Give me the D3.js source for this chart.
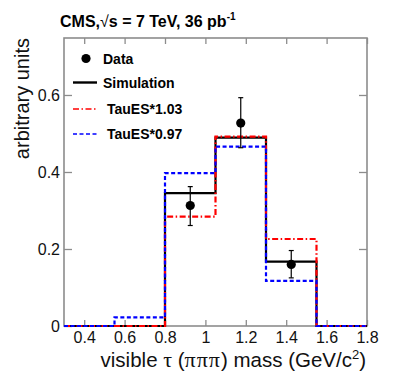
<!DOCTYPE html>
<html lang="en">
<head>
    <meta charset="UTF-8">
    <title>Visible tau mass, 3-prong</title>
    <style>
        body { margin: 0; background: #fff; }
        svg { display: block; font-family: "Liberation Sans", Arial, sans-serif; }
        .tick text { font-family: "Liberation Sans", Arial, sans-serif; }
    </style>
</head>
<body>
    <div class="graph-container"></div>

    <script src="https://d3js.org/d3.v7.min.js"></script>
    <script>
        // bin edges (GeV/c^2) and per-bin contents
        var binEdges = [0.3, 0.55, 0.8, 1.05, 1.3, 1.55, 1.8];
        var simulation = [0, 0, 0.345, 0.489, 0.167, 0];
        var tauUp = [0, 0, 0.284, 0.492, 0.226, 0];      // TauES*1.03
        var tauDown = [0, 0.0225, 0.397, 0.466, 0.117, 0]; // TauES*0.97

        // data points with error bars
        var dataX = [0.925, 1.175, 1.425];
        var dataY = [0.313, 0.527, 0.160];
        var dataLo = [0.261, 0.463, 0.125];
        var dataHi = [0.362, 0.593, 0.196];

        var xTicks = [0.4, 0.6, 0.8, 1.0, 1.2, 1.4, 1.6, 1.8];
        var xTickLabels = ["0.4", "0.6", "0.8", "1", "1.2", "1.4", "1.6", "1.8"];
        var yTicks = [0, 0.2, 0.4, 0.6];
        var yTickLabels = ["0", "0.2", "0.4", "0.6"];

        var canvasWidth = 399;
        var canvasHeight = 375;
        var frame = { left: 64, right: 367, top: 38, bottom: 326 };
        var frameColor = "#8c8c8c";

        var x = d3.scaleLinear().domain([0.3, 1.8]).range([frame.left, frame.right]);
        var y = d3.scaleLinear().domain([0, 0.748]).range([frame.bottom, frame.top]);

        var svg = d3.select(".graph-container")
            .append("svg")
            .attr("width", canvasWidth)
            .attr("height", canvasHeight);

        // axes: ticks point inward, labels only on bottom/left
        function styleAxis(g) {
            g.select(".domain").remove();
            g.selectAll(".tick line").attr("stroke", frameColor).attr("stroke-width", 1.3);
            g.selectAll(".tick text").attr("fill", "#111").attr("font-size", 16);
        }

        svg.append("g")
            .attr("transform", "translate(0," + frame.bottom + ")")
            .call(d3.axisBottom(x).tickValues(xTicks).tickSize(-6).tickPadding(6)
                .tickFormat(function(d, i) { return xTickLabels[i]; }))
            .call(styleAxis);

        svg.append("g")
            .attr("transform", "translate(0," + frame.top + ")")
            .call(d3.axisTop(x).tickValues(xTicks).tickSize(-6).tickFormat(""))
            .call(styleAxis);

        svg.append("g")
            .attr("transform", "translate(" + frame.left + ",0)")
            .call(d3.axisLeft(y).tickValues(yTicks).tickSize(-8).tickPadding(4)
                .tickFormat(function(d, i) { return yTickLabels[i]; }))
            .call(styleAxis);

        svg.append("g")
            .attr("transform", "translate(" + frame.right + ",0)")
            .call(d3.axisRight(y).tickValues(yTicks).tickSize(-8).tickFormat(""))
            .call(styleAxis);

        svg.append("rect")
            .attr("x", frame.left)
            .attr("y", frame.top)
            .attr("width", frame.right - frame.left)
            .attr("height", frame.bottom - frame.top)
            .attr("fill", "none")
            .attr("stroke", frameColor)
            .attr("stroke-width", 1.6);

        // histograms as step lines
        var step = d3.line()
            .x(function(d) { return x(d[0]); })
            .y(function(d) { return y(d[1]); })
            .curve(d3.curveStepAfter);

        function histPoints(values) {
            var pts = values.map(function(v, i) { return [binEdges[i], v]; });
            pts.push([binEdges[binEdges.length - 1], values[values.length - 1]]);
            return pts;
        }

        var histos = [
            { values: simulation, color: "#000", dash: null },
            { values: tauUp, color: "#ff0000", dash: "6,2.5,1.5,2.5" },
            { values: tauDown, color: "#0000ff", dash: "4,2.5" }
        ];

        svg.append("g").selectAll("path")
            .data(histos)
            .enter()
                .append("path")
                .attr("d", function(d) { return step(histPoints(d.values)); })
                .attr("fill", "none")
                .attr("stroke", function(d) { return d.color; })
                .attr("stroke-width", 2.2)
                .attr("stroke-dasharray", function(d) { return d.dash; });

        // data points
        var pts = dataX.map(function(v, i) {
            return { x: v, y: dataY[i], lo: dataLo[i], hi: dataHi[i] };
        });
        var dataG = svg.append("g");
        dataG.selectAll("line.err")
            .data(pts)
            .enter()
                .append("line")
                .attr("class", "err")
                .attr("x1", function(d) { return x(d.x); })
                .attr("x2", function(d) { return x(d.x); })
                .attr("y1", function(d) { return y(d.lo); })
                .attr("y2", function(d) { return y(d.hi); })
                .attr("stroke", "#000")
                .attr("stroke-width", 1.2);
        ["lo", "hi"].forEach(function(k) {
            dataG.selectAll("line.cap-" + k)
                .data(pts)
                .enter()
                    .append("line")
                    .attr("class", "cap-" + k)
                    .attr("x1", function(d) { return x(d.x) - 2.5; })
                    .attr("x2", function(d) { return x(d.x) + 2.5; })
                    .attr("y1", function(d) { return y(d[k]); })
                    .attr("y2", function(d) { return y(d[k]); })
                    .attr("stroke", "#000")
                    .attr("stroke-width", 1.2);
        });
        dataG.selectAll("circle")
            .data(pts)
            .enter()
                .append("circle")
                .attr("cx", function(d) { return x(d.x); })
                .attr("cy", function(d) { return y(d.y); })
                .attr("r", 4.6)
                .attr("fill", "#000");

        // legend
        var legend = svg.append("g").attr("font-weight", "bold").attr("font-size", 14).attr("fill", "#000");
        legend.append("circle").attr("cx", 86).attr("cy", 58.5).attr("r", 4.6).attr("fill", "#000");
        legend.append("text").attr("x", 103).attr("y", 63.5).text("Data");

        var legendLines = [
            { label: "Simulation", y: 82.5, tx: 103, color: "#000", dash: null, w: 2.4 },
            { label: "TauES*1.03", y: 109, tx: 107, color: "#ff0000", dash: "6,2.5,1.5,2.5", w: 1.6 },
            { label: "TauES*0.97", y: 134, tx: 107, color: "#0000ff", dash: "4,2.5", w: 1.6 }
        ];
        legendLines.forEach(function(d) {
            legend.append("line")
                .attr("x1", 73).attr("x2", 97)
                .attr("y1", d.y).attr("y2", d.y)
                .attr("stroke", d.color)
                .attr("stroke-width", d.w)
                .attr("stroke-dasharray", d.dash);
            legend.append("text").attr("x", d.tx).attr("y", d.y + 5).text(d.label);
        });

        // title
        var title = svg.append("text")
            .attr("x", 60).attr("y", 26.5)
            .attr("font-size", 16).attr("font-weight", "bold");
        title.append("tspan").text("CMS,");
        title.append("tspan").attr("font-weight", "normal").text("\u221A");
        title.append("tspan").text("s = 7 TeV, 36 pb");
        title.append("tspan").attr("font-size", 10).attr("dy", -7).text("-1");

        // axis titles
        svg.append("text")
            .attr("transform", "translate(29," + frame.top + ") rotate(-90)")
            .attr("text-anchor", "end")
            .attr("font-size", 20)
            .attr("fill", "#111")
            .text("arbitrary units");

        var xt = svg.append("text")
            .attr("x", 366).attr("y", 366.5)
            .attr("text-anchor", "end")
            .attr("font-size", 20.5)
            .attr("fill", "#111");
        xt.append("tspan").text("visible ");
        xt.append("tspan").attr("font-family", "Liberation Serif").attr("font-size", 22).text("\u03C4");
        xt.append("tspan").text(" (");
        xt.append("tspan").attr("font-family", "Liberation Serif").attr("font-size", 22)
            .attr("letter-spacing", 1).text("\u03C0\u03C0\u03C0");
        xt.append("tspan").text(") mass (GeV/c");
        xt.append("tspan").attr("font-size", 13).attr("dy", -8).text("2");
        xt.append("tspan").attr("dy", 8).text(")");
    </script>
</body>
</html>
